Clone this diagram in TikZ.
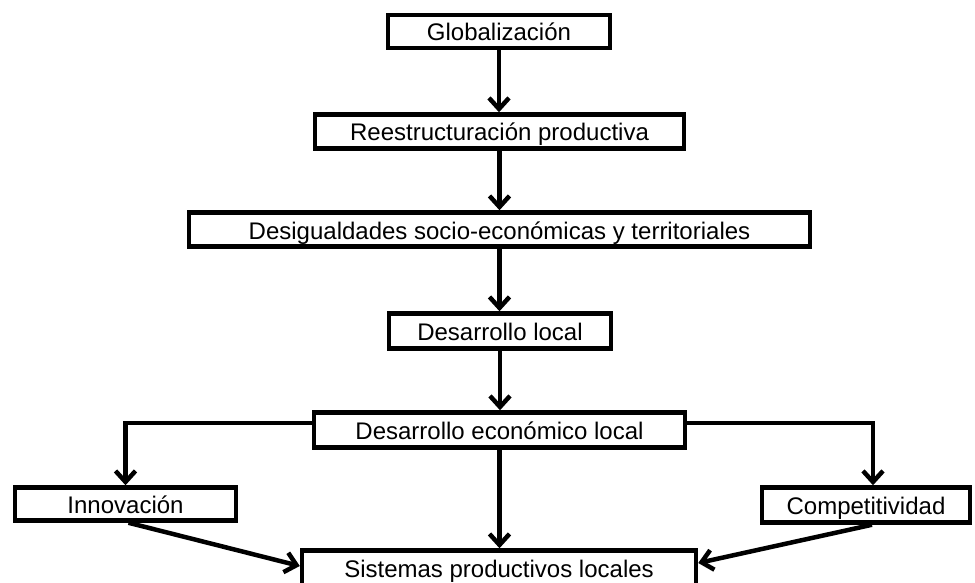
\documentclass[tikz,border=0pt]{standalone}
\usepackage{fontspec}
\setmainfont{Liberation Sans}
\usetikzlibrary{arrows.meta,calc}
\begin{document}
\begin{tikzpicture}[x=1pt,y=-1pt,
  box/.style={draw, line width=4.5pt, inner sep=0pt, fill=white,
    font=\fontsize{24}{28}\selectfont, text=black, text height=19pt, text depth=0pt},
  arr/.style={line width=4.5pt, -{Straight Barb[length=11pt,width=20pt]}}]
\useasboundingbox (0,0) rectangle (975,583);
\node[box, minimum width=222pt, minimum height=33pt] (glo) at (499,31.5) {Globalización};
\node[box, minimum width=369pt, minimum height=34pt] (ree) at (499.5,131.5) {Reestructuración productiva};
\node[box, minimum width=621pt, minimum height=34pt] (des) at (499.5,229.5) {Desigualdades socio-económicas y territoriales};
\node[box, minimum width=222pt, minimum height=35pt] (dl) at (500,331) {Desarrollo local};
\node[box, minimum width=371pt, minimum height=35pt] (del) at (499.5,430) {Desarrollo económico local};
\node[box, minimum width=221pt, minimum height=33pt] (inn) at (125.5,504) {Innovación};
\node[box, minimum width=208pt, minimum height=35pt] (com) at (866,505) {Competitividad};
\node[box, minimum width=394pt, minimum height=35pt] (sis) at (499,568) {Sistemas productivos locales};
\draw[arr] (glo.south) -- (glo.south |- ree.north);
\draw[arr] (ree.south) -- (ree.south |- des.north);
\draw[arr] (des.south) -- (des.south |- dl.north);
\draw[arr] (dl.south) -- (dl.south |- del.north);
\draw[arr] (del.south) -- (del.south |- sis.north);
\coordinate (lb) at ($(del.west)+(0,-7)$);
\coordinate (rb) at ($(del.east)+(0,-7)$);
\draw[arr] (lb) -| (inn.north);
\coordinate (ctop) at ($(com.north)+(7,0)$);
\draw[arr] (rb) -| (ctop);
\coordinate (ibot) at ($(inn.south)+(3,0)$);
\coordinate (cbot) at ($(com.south)+(6,0)$);
\draw[arr] (ibot) -- ($(sis.west)+(0,-2)$);
\draw[arr] (cbot) -- ($(sis.east)+(0,-5)$);
\end{tikzpicture}
\end{document}
